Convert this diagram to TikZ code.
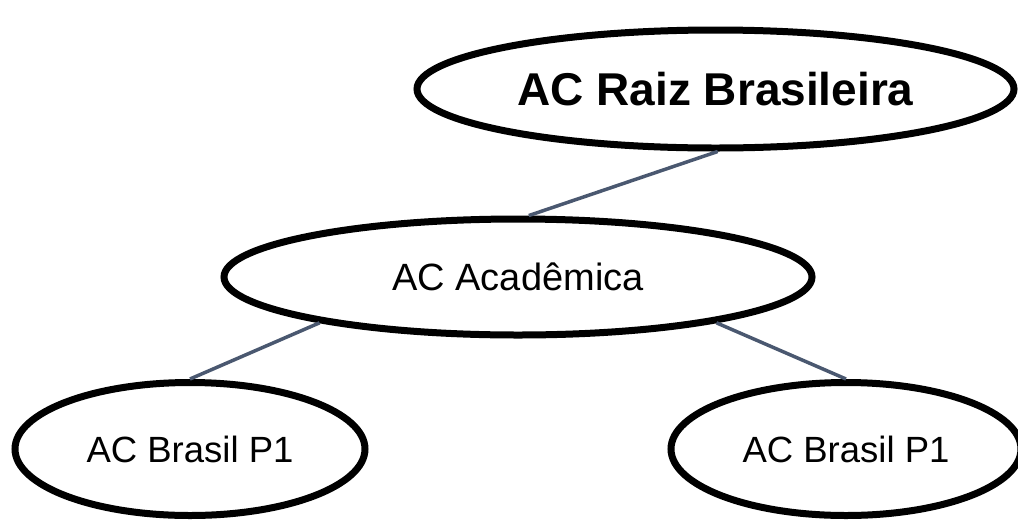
\documentclass[tikz,border=0pt]{standalone}
\usepackage{fontspec}
\setmainfont{Liberation Sans}
\usetikzlibrary{shapes.geometric}
\definecolor{linkcol}{HTML}{4A5870}
\begin{document}
\begin{tikzpicture}[x=1pt,y=-1pt,
  oval/.style={ellipse, draw=black, line width=7pt, fill=white, inner sep=0pt, align=center},
  link/.style={draw=linkcol, line width=3.5pt}]
\fill[white] (0,0) rectangle (1018,523);
\useasboundingbox (0,0) rectangle (1018,523);
\node[oval, minimum width=597pt, minimum height=118pt, font=\fontsize{46}{50}\selectfont\bfseries] (raiz) at (715.5,89) {AC Raiz Brasileira};
\node[oval, minimum width=588pt, minimum height=116pt, font=\fontsize{38}{42}\selectfont] (acad) at (518,277) {AC Acadêmica};
\node[oval, minimum width=350pt, minimum height=133pt, font=\fontsize{36.5}{40}\selectfont] (bl) at (190,449) {AC Brasil P1};
\node[oval, minimum width=350pt, minimum height=133pt, font=\fontsize{36.5}{40}\selectfont] (br) at (846,449) {AC Brasil P1};
\draw[link] (raiz.-88) -- (acad.80);
\draw[link] (acad.193) -- (bl.north);
\draw[link] (acad.-13) -- (br.north);
\end{tikzpicture}
\end{document}
